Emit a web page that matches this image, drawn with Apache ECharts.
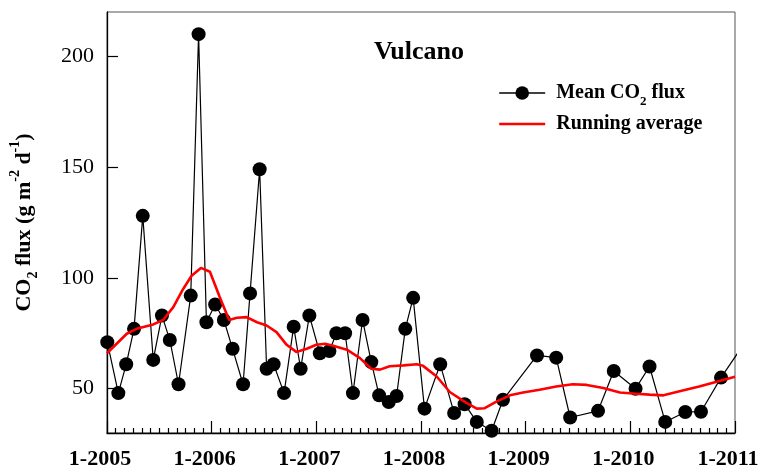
<!DOCTYPE html>
<html>
<head>
<meta charset="utf-8">
<script src="https://cdn.jsdelivr.net/npm/echarts@6/dist/echarts.min.js"></script>
<style>
  html, body { margin: 0; padding: 0; background: #fff; }
  #chart { width: 761px; height: 468px; }
</style>
</head>
<body>
<div id="chart"></div>
<script>
// Sampling campaigns on Vulcano and the mean soil CO2 flux measured in each
const sampleDates = [
  '2005-01-02', '2005-02-10', '2005-03-07', '2005-04-04', '2005-05-04', '2005-06-10',
  '2005-07-10', '2005-08-07', '2005-09-07', '2005-10-19', '2005-11-16', '2005-12-13',
  '2006-01-13', '2006-02-13', '2006-03-13', '2006-04-19', '2006-05-13', '2006-06-16',
  '2006-07-10', '2006-08-04', '2006-09-10', '2006-10-13', '2006-11-07', '2006-12-07',
  '2007-01-13', '2007-02-16', '2007-03-10', '2007-04-10', '2007-05-07', '2007-06-10',
  '2007-07-10', '2007-08-07', '2007-09-10', '2007-10-07', '2007-11-07', '2007-12-04',
  '2008-01-13', '2008-03-07', '2008-04-25', '2008-06-01', '2008-07-13', '2008-09-04',
  '2008-10-13', '2009-02-10', '2009-04-16', '2009-06-04', '2009-09-10', '2009-11-04',
  '2010-01-19', '2010-03-07', '2010-05-01', '2010-07-10', '2010-09-04', '2010-11-13',
  '2011-02-16'
];
const meanFlux = [
  71, 48, 61, 77, 128, 63,
  83, 72, 52, 92, 210, 80,
  88, 81, 68, 52, 93, 149,
  59, 61, 48, 78, 59, 83,
  66, 67, 75, 75, 48, 81,
  62, 47, 44, 46.7, 77, 91,
  41, 61, 39, 43, 35, 31,
  45, 65, 64, 37, 40, 58,
  50, 60, 35, 39.5, 39.6, 55,
  73
];

// Running average of the flux series
const avgDates = [
  '2005-01-01', '2005-03-09', '2005-04-13', '2005-06-10', '2005-07-14', '2005-08-19',
  '2005-09-23', '2005-10-22', '2005-11-24', '2005-12-25', '2006-01-29', '2006-03-01',
  '2006-03-28', '2006-05-01', '2006-06-07', '2006-07-10', '2006-08-14', '2006-09-19',
  '2006-10-22', '2006-11-28', '2007-01-01', '2007-02-01', '2007-02-26', '2007-04-16',
  '2007-06-01', '2007-07-10', '2007-08-10', '2007-09-13', '2007-11-01', '2007-12-16',
  '2008-01-08', '2008-02-25', '2008-04-10', '2008-06-07', '2008-07-13', '2008-08-10',
  '2008-09-22', '2008-11-07', '2008-12-22', '2009-02-19', '2009-04-16', '2009-06-13',
  '2009-08-01', '2009-09-28', '2009-11-25', '2010-01-22', '2010-03-07', '2010-04-25',
  '2010-07-01', '2010-08-28', '2010-10-28', '2011-01-01'
];
const runningAvg = [
  66, 74.8, 77, 79, 81, 86.8,
  95, 101, 104.5, 102.8, 91.3, 81,
  82, 82.3, 80, 78.5, 75.5, 69.8,
  66.6, 68, 69.8, 70.3, 69.5, 67.6,
  63.8, 59, 58.6, 60.1, 60.5, 61,
  60.3, 55.5, 48.5, 43.6, 41, 41.2,
  44.3, 47, 48.3, 49.5, 51, 52,
  51.7, 50.3, 48.3, 47.7, 47.3, 47,
  49.2, 51, 53.1, 55.4
];

// Year labels shown under the major ticks
const yearLabels = ['1-2005', '1-2006', '1-2007', '1-2008', '1-2009', '1-2010', '1-2011'];

// Months elapsed since January 2005 (fractional)
function monthsFromStart(s) {
  const [y, m, d] = s.split('-').map(Number);
  return (y - 2005) * 12 + (m - 1) + (d - 1) / 30;
}

const fluxPoints = sampleDates.map((d, i) => [monthsFromStart(d), meanFlux[i]]);
const avgPoints = avgDates.map((d, i) => [monthsFromStart(d), runningAvg[i]]);

const serif = '"Liberation Serif", "Times New Roman", serif';

const chart = echarts.init(document.getElementById('chart'), null, { renderer: 'canvas' });
chart.setOption({
  animation: false,
  backgroundColor: '#fff',
  title: {
    text: 'Vulcano',
    left: 414,
    top: 34,
    textAlign: 'center',
    textStyle: { fontFamily: serif, fontSize: 26, fontWeight: 'bold', color: '#000' }
  },
  legend: {
    orient: 'vertical',
    left: 498,
    top: 83,
    padding: 0,
    itemWidth: 46,
    itemHeight: 17,
    itemGap: 6,
    data: [
      { name: 'Mean CO2 flux', lineStyle: { width: 1.4 } },
      { name: 'Running average', itemStyle: { opacity: 0 }, lineStyle: { width: 2.4 } }
    ],
    formatter: function (name) {
      return name === 'Mean CO2 flux' ? 'Mean CO{sub|2} flux' : name;
    },
    textStyle: {
      fontFamily: serif, fontSize: 20, fontWeight: 'bold', color: '#000',
      padding: [0, 0, 0, 6],
      rich: {
        sub: { fontFamily: serif, fontSize: 13, fontWeight: 'bold', lineHeight: 30, verticalAlign: 'bottom' }
      }
    }
  },
  grid: {
    left: 107, right: 26, top: 12, bottom: 35,
    outerBoundsMode: 'none',
    show: true, borderColor: '#555', borderWidth: 1, backgroundColor: 'transparent'
  },
  xAxis: {
    type: 'value',
    min: 0, max: 72, interval: 12,
    splitLine: { show: false },
    axisLine: { lineStyle: { color: '#000', width: 1.3 } },
    axisTick: { inside: true, length: 12, lineStyle: { color: '#000', width: 1.2 } },
    minorTick: { show: true, splitNumber: 12, length: 5, lineStyle: { color: '#000', width: 1.2 } },
    axisLabel: {
      fontFamily: serif, fontSize: 22, fontWeight: 'bold', color: '#000',
      margin: 15, padding: [0, 14, 0, 0],
      formatter: function (v) { return yearLabels[Math.round(v / 12)] || ''; }
    }
  },
  yAxis: {
    type: 'value',
    min: 30, max: 220,
    splitLine: { show: false },
    axisLine: { show: true, lineStyle: { color: '#000', width: 1.3 } },
    axisLabel: {
      fontFamily: serif, fontSize: 22, color: '#000', margin: 13,
      customValues: [50, 100, 150, 200]
    },
    axisTick: { show: true, inside: true, length: 11, customValues: [50, 100, 150, 200], lineStyle: { color: '#000', width: 1.2 } },
    name: 'CO{sub|2} flux (g m{sup|-2} d{sup|-1})',
    nameLocation: 'middle',
    nameRotate: 90,
    nameGap: 67,
    nameTextStyle: {
      fontFamily: serif, fontSize: 22, fontWeight: 'bold', color: '#000',
      rich: {
        sub: { fontFamily: serif, fontSize: 14, fontWeight: 'bold', lineHeight: 32, verticalAlign: 'bottom' },
        sup: { fontFamily: serif, fontSize: 14, fontWeight: 'bold', lineHeight: 32, verticalAlign: 'top' }
      }
    }
  },
  series: [
    {
      name: 'Mean CO2 flux',
      type: 'line',
      data: fluxPoints,
      symbol: 'circle',
      symbolSize: 14,
      itemStyle: { color: '#000' },
      lineStyle: { color: '#000', width: 1.2 },
      z: 2
    },
    {
      name: 'Running average',
      type: 'line',
      data: avgPoints,
      symbol: 'none',
      itemStyle: { color: '#ff0000' },
      lineStyle: { color: '#ff0000', width: 2.6 },
      z: 3
    }
  ]
});
</script>
</body>
</html>
